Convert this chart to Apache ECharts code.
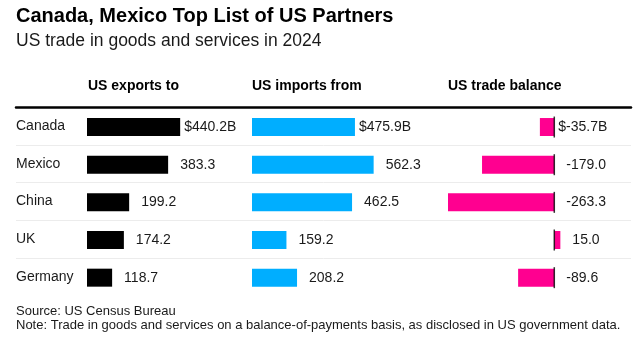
<!DOCTYPE html>
<html>
<head>
<meta charset="utf-8">
<script src="https://cdn.jsdelivr.net/npm/echarts@6/dist/echarts.min.js"></script>
<style>
    html, body { margin: 0; padding: 0; background: #fff; }
    #main { width: 634px; height: 350px; }
</style>
</head>
<body>
<div id="main"></div>
<script>
var countries = ['Canada', 'Mexico', 'China', 'UK', 'Germany'];
var exportsTo = [440.2, 383.3, 199.2, 174.2, 118.7];
var importsFrom = [475.9, 562.3, 462.5, 159.2, 208.2];
var tradeBalance = [-35.7, -179.0, -263.3, 15.0, -89.6];
var headers = ['US exports to', 'US imports from', 'US trade balance'];

var FONT = "'Liberation Sans', Arial, sans-serif";
var TXT = '#1a1a1a';

// first row carries the units, the "$" hangs left of the number
function fmt(p) {
    var s = p.value.toFixed(1);
    return p.dataIndex === 0 ? '$' + s + 'B' : s;
}
function withLabels(arr) {
    return arr.map(function (v, i) {
        return {value: v, label: {distance: i === 0 ? 4 : 12}};
    });
}
function barSeries(idx, arr, color) {
    return {
        type: 'bar',
        xAxisIndex: idx,
        yAxisIndex: idx,
        barWidth: 18,
        itemStyle: {color: color},
        label: {
            show: true,
            position: 'right',
            formatter: fmt,
            fontSize: 14,
            fontFamily: FONT,
            color: TXT
        },
        data: withLabels(arr)
    };
}
function hiddenY(idx) {
    return {type: 'category', gridIndex: idx, inverse: true, data: countries, show: false};
}

var top0 = 107.3, rowsH = 188.3, topBars = 108.2;

var option = {
    animation: false,
    backgroundColor: '#fff',
    textStyle: {fontFamily: FONT},
    title: [
        {text: 'Canada, Mexico Top List of US Partners', left: 16, top: 6, padding: 0,
            textStyle: {fontSize: 20, fontWeight: 'bold', color: '#000', fontFamily: FONT}},
        {text: 'US trade in goods and services in 2024', left: 16, top: 32.5, padding: 0,
            textStyle: {fontSize: 17.5, fontWeight: 'normal', color: TXT, fontFamily: FONT}},
        {text: headers[0], left: 88, top: 79, padding: 0,
            textStyle: {fontSize: 14, fontWeight: 'bold', color: '#000', fontFamily: FONT}},
        {text: headers[1], left: 252, top: 79, padding: 0,
            textStyle: {fontSize: 14, fontWeight: 'bold', color: '#000', fontFamily: FONT}},
        {text: headers[2], left: 448, top: 79, padding: 0,
            textStyle: {fontSize: 14, fontWeight: 'bold', color: '#000', fontFamily: FONT}},
        {text: 'Source: US Census Bureau', left: 16, top: 304.5, padding: 0,
            textStyle: {fontSize: 13, fontWeight: 'normal', color: TXT, fontFamily: FONT}},
        {text: 'Note: Trade in goods and services on a balance-of-payments basis, as disclosed in US government data.',
            left: 16, top: 319.3, padding: 0,
            textStyle: {fontSize: 13, fontWeight: 'normal', color: TXT, fontFamily: FONT}}
    ],
    grid: [
        {left: 16, right: 3, top: top0, height: rowsH},
        {left: 87, width: 127, top: topBars, height: rowsH},
        {left: 252, width: 129.8, top: topBars, height: rowsH},
        {left: 448, width: 112.35, top: topBars, height: rowsH}
    ],
    xAxis: [
        {
            type: 'value', gridIndex: 0, position: 'top', min: 0, max: 1,
            axisLine: {show: true, lineStyle: {color: '#000', width: 2.5}},
            axisTick: {show: false}, axisLabel: {show: false}, splitLine: {show: false}
        },
        {type: 'value', gridIndex: 1, min: 0, max: 600, show: false},
        {type: 'value', gridIndex: 2, min: 0, max: 600, show: false},
        {type: 'value', gridIndex: 3, min: 'dataMin', max: 'dataMax', show: false}
    ],
    yAxis: [
        {
            type: 'category', gridIndex: 0, inverse: true, data: countries,
            axisLine: {show: false}, axisTick: {show: false},
            axisLabel: {inside: true, margin: 0, fontSize: 14, color: TXT, fontFamily: FONT},
            splitLine: {show: true, showMinLine: false, showMaxLine: false,
                lineStyle: {color: '#ececec', width: 1}}
        },
        hiddenY(1), hiddenY(2), hiddenY(3)
    ],
    series: [
        barSeries(1, exportsTo, '#000000'),
        barSeries(2, importsFrom, '#00AEFF'),
        barSeries(3, tradeBalance, '#FF0090'),
        {
            type: 'scatter',
            xAxisIndex: 3,
            yAxisIndex: 3,
            symbol: 'rect',
            symbolSize: [1.5, 21],
            itemStyle: {color: '#000'},
            z: 5,
            silent: true,
            data: countries.map(function (c) { return [0, c]; })
        }
    ]
};

var chart = echarts.init(document.getElementById('main'));
chart.setOption(option);
</script>
</body>
</html>
